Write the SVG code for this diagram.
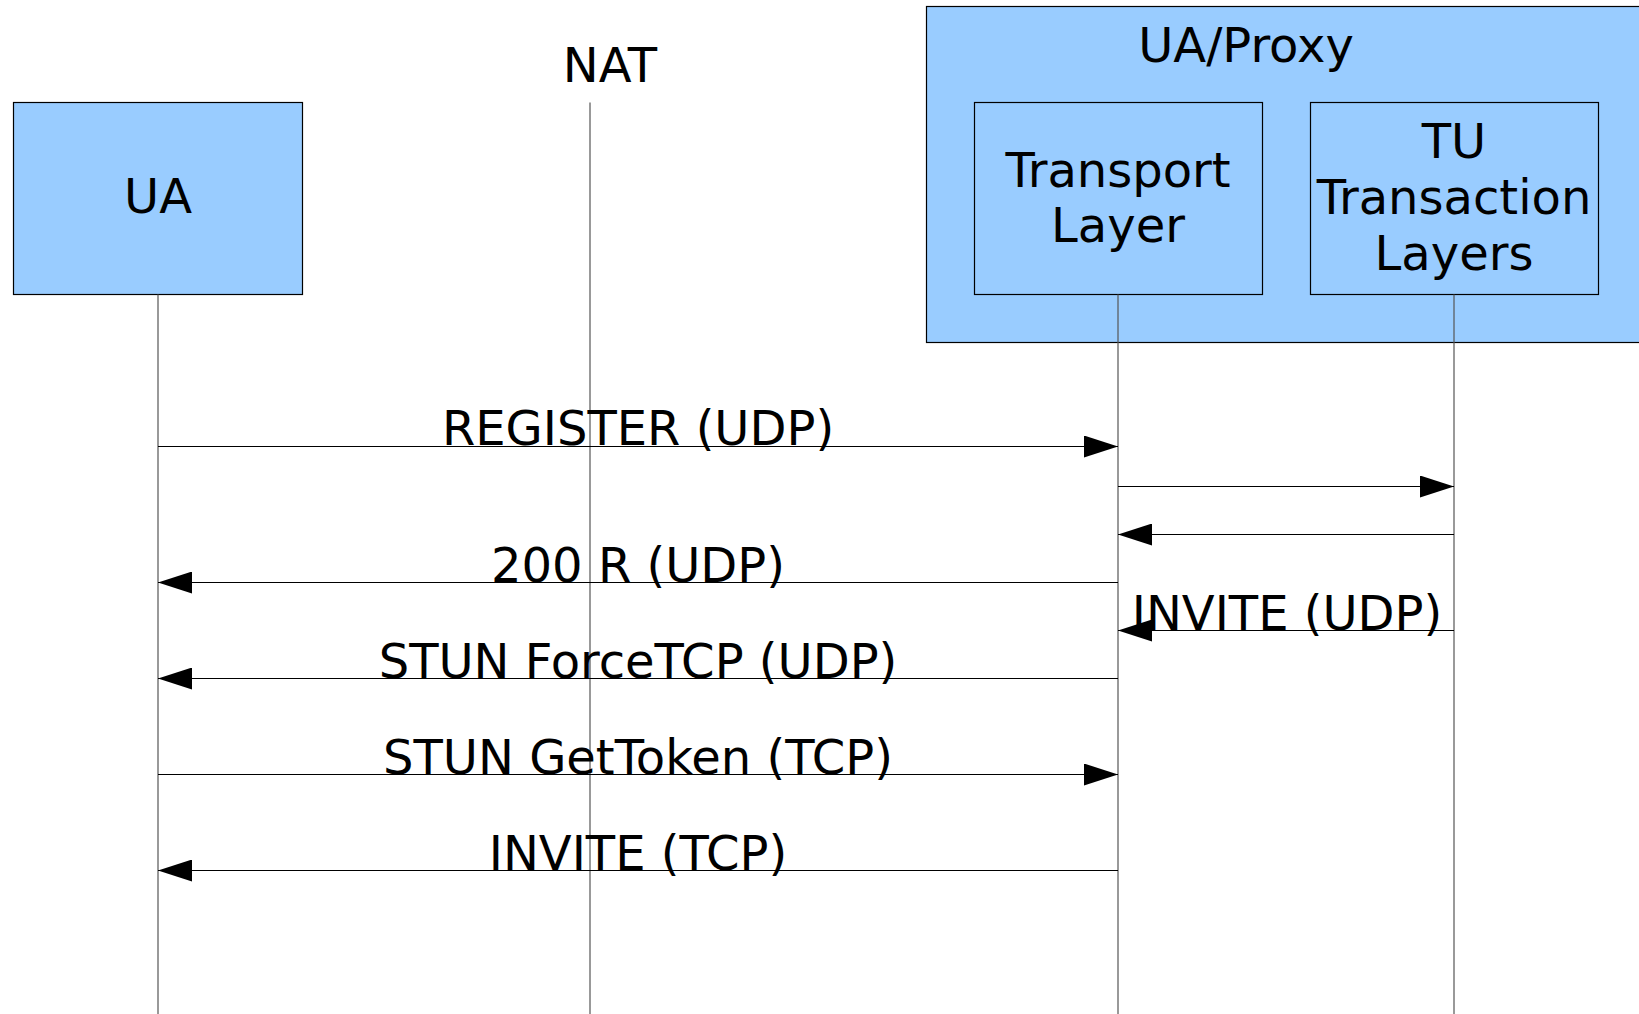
<svg xmlns="http://www.w3.org/2000/svg" width="1639" height="1014" viewBox="0 0 1639 1014">
<style>
.box{fill:#99ccff;stroke:#000;stroke-width:1.2}
.life{stroke:#555;stroke-width:1.2;fill:none}
.msg{stroke:#000;stroke-width:1.2;fill:none}
text{font-family:"DejaVu Sans",sans-serif;font-size:48px;fill:#000;text-anchor:middle}
</style>
<defs>
<marker id="ah" markerWidth="34" markerHeight="22" refX="34" refY="11" orient="auto" markerUnits="userSpaceOnUse">
<path d="M0,0 L34,11 L0,22 Z" fill="#000"/>
</marker>
</defs>
<g id="ua-proxy">
<rect class="box" x="926.5" y="6.5" width="720" height="336"/>
<text x="1246" y="62">UA/Proxy</text>
</g>
<g id="ua">
<rect class="box" x="13.5" y="102.5" width="289" height="192"/>
<text x="158" y="213">UA</text>
</g>
<g id="nat">
<text x="610" y="82">NAT</text>
</g>
<g id="transport">
<rect class="box" x="974.5" y="102.5" width="288" height="192"/>
<text x="1118" y="187">Transport</text>
<text x="1118" y="242">Layer</text>
</g>
<g id="tu">
<rect class="box" x="1310.5" y="102.5" width="288" height="192"/>
<text x="1454" y="158">TU</text>
<text x="1454" y="214">Transaction</text>
<text x="1454" y="270">Layers</text>
</g>
<g id="lifelines">
<line class="life" x1="158" y1="294.5" x2="158" y2="1014"/>
<line class="life" x1="590" y1="102.5" x2="590" y2="1014"/>
<line class="life" x1="1118" y1="294.5" x2="1118" y2="1014"/>
<line class="life" x1="1454" y1="294.5" x2="1454" y2="1014"/>
</g>
<g id="connectors">
<line class="msg" x1="158" y1="446.5" x2="1118" y2="446.5" marker-end="url(#ah)"/>
<line class="msg" x1="1118" y1="486.5" x2="1454" y2="486.5" marker-end="url(#ah)"/>
<line class="msg" x1="1454" y1="534.5" x2="1118" y2="534.5" marker-end="url(#ah)"/>
<line class="msg" x1="1118" y1="582.5" x2="158" y2="582.5" marker-end="url(#ah)"/>
<line class="msg" x1="1454" y1="630.5" x2="1118" y2="630.5" marker-end="url(#ah)"/>
<line class="msg" x1="1118" y1="678.5" x2="158" y2="678.5" marker-end="url(#ah)"/>
<line class="msg" x1="158" y1="774.5" x2="1118" y2="774.5" marker-end="url(#ah)"/>
<line class="msg" x1="1118" y1="870.5" x2="158" y2="870.5" marker-end="url(#ah)"/>
<text x="638" y="445">REGISTER (UDP)</text>
<text x="638" y="582">200 R (UDP)</text>
<text x="1287" y="630">INVITE (UDP)</text>
<text x="638" y="678">STUN ForceTCP (UDP)</text>
<text x="638" y="774">STUN GetToken (TCP)</text>
<text x="638" y="870">INVITE (TCP)</text>
</g>
</svg>
